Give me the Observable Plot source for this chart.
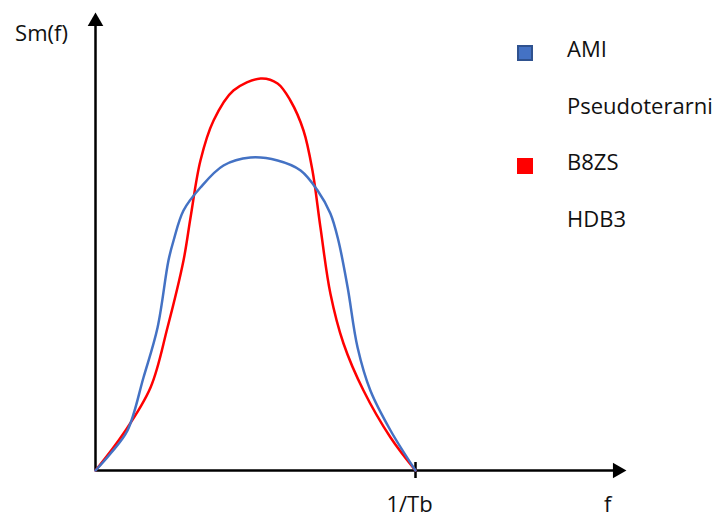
<!DOCTYPE html>
<html>
<head>
<meta charset="utf-8">
<script src="https://cdn.jsdelivr.net/npm/d3@7"></script>
<script src="https://cdn.jsdelivr.net/npm/@observablehq/plot@0.6"></script>
<style>
  html, body { margin: 0; padding: 0; background: #fff; }
  #wrap { position: relative; width: 722px; height: 518px; font-family: "Open Sans", Lato, sans-serif; }
  #legend { position: absolute; left: 517px; top: 33px; font-size: 22px; color: #111; }
  .item { position: relative; height: 56.5px; }
  .sw { position: absolute; left: 0; top: 12px; width: 16px; height: 16px; box-sizing: border-box; }
  .lab { position: absolute; left: 50px; top: 0; line-height: 30px; white-space: nowrap; }
</style>
</head>
<body>
<div id="wrap"><div id="chart"></div><div id="legend"></div></div>
<script>
// Spectral density curves, f in units of 1/Tb, Sm(f) in arbitrary units
const amiF = [0, 0.047, 0.1, 0.15, 0.194, 0.228, 0.244, 0.275, 0.328, 0.4, 0.484, 0.569, 0.641, 0.694, 0.734, 0.759, 0.788, 0.819, 0.859, 0.922, 1];
const amiS = [0, 4.25, 10, 23.25, 35.75, 52.5, 57.5, 65, 70.75, 76.25, 78.25, 77.5, 75, 70, 64.25, 57.5, 45.75, 30.75, 20, 10, 0];
const b8zsF = [0, 0.0875, 0.172, 0.225, 0.275, 0.297, 0.328, 0.369, 0.431, 0.516, 0.569, 0.609, 0.65, 0.678, 0.703, 0.734, 0.775, 0.8375, 0.922, 1];
const b8zsS = [0, 9.25, 20.75, 35.75, 52.5, 63.25, 77.5, 87.5, 95, 98, 96.75, 92.5, 85, 75, 60.75, 44.25, 31.75, 20, 8.25, 0];
const legendNames = ["AMI", "Pseudoterarni", "B8ZS", "HDB3"];
const legendColors = ["#4472C4", null, "#FF0000", null];
const tickLabels = ["1/Tb"];
const tickValues = [1];

const ami = amiF.map((f, i) => ({f, s: amiS[i]}));
const b8zs = b8zsF.map((f, i) => ({f, s: b8zsS[i]}));

const xEnd = 1.631, yEnd = 112.25;
const font = "'Open Sans', Lato, sans-serif";

const chart = Plot.plot({
  width: 722, height: 518,
  marginTop: 0, marginRight: 0, marginBottom: 0, marginLeft: 0,
  x: {type: "linear", domain: [0, 1], range: [95, 415], axis: null},
  y: {type: "linear", domain: [0, 100], range: [470, 70], axis: null},
  style: {fontFamily: font, fontSize: "22px", background: "white", overflow: "visible"},
  marks: [
    // axes
    Plot.ruleY([0], {x1: 0, x2: xEnd, stroke: "black", strokeWidth: 2.5}),
    Plot.ruleX([0], {y1: 0, y2: yEnd, stroke: "black", strokeWidth: 2.5}),
    Plot.dot([0], {x: 0, y: yEnd, symbol: "triangle", r: 5.8, fill: "black", stroke: null}),
    Plot.dot([0], {x: xEnd, y: 0, symbol: "triangle", r: 5.8, fill: "black", stroke: null, rotate: 90}),
    Plot.ruleX(tickValues, {x: d => d, y1: -2, y2: 2, stroke: "black", strokeWidth: 2.5}),
    // curves
    Plot.line(b8zs, {x: "f", y: "s", stroke: "#FF0000", strokeWidth: 2.5, curve: "catmull-rom"}),
    Plot.line(ami, {x: "f", y: "s", stroke: "#4472C4", strokeWidth: 2.5, curve: "catmull-rom"}),
    // labels
    Plot.text(tickLabels, {x: (d, i) => tickValues[i], y: 0, text: d => d, dy: 34, dx: -6, fill: "#111"}),
    Plot.text(["f"], {x: xEnd - 0.03, y: 0, text: d => d, dy: 34, fill: "#111"}),
    Plot.text(["Sm(f)"], {x: 0, y: yEnd - 2, text: d => d, dx: -54, dy: 4, fill: "#111"})
  ]
});
document.getElementById("chart").appendChild(chart);

const leg = document.getElementById("legend");
legendNames.forEach((n, i) => {
  const it = document.createElement("div");
  it.className = "item";
  if (legendColors[i]) {
    const sw = document.createElement("div");
    sw.className = "sw";
    sw.style.background = legendColors[i];
    sw.style.border = i === 0 ? "2px solid #2F528F" : "none";
    it.appendChild(sw);
  }
  const l = document.createElement("div");
  l.className = "lab";
  l.textContent = n;
  it.appendChild(l);
  leg.appendChild(it);
});
</script>
</body>
</html>
